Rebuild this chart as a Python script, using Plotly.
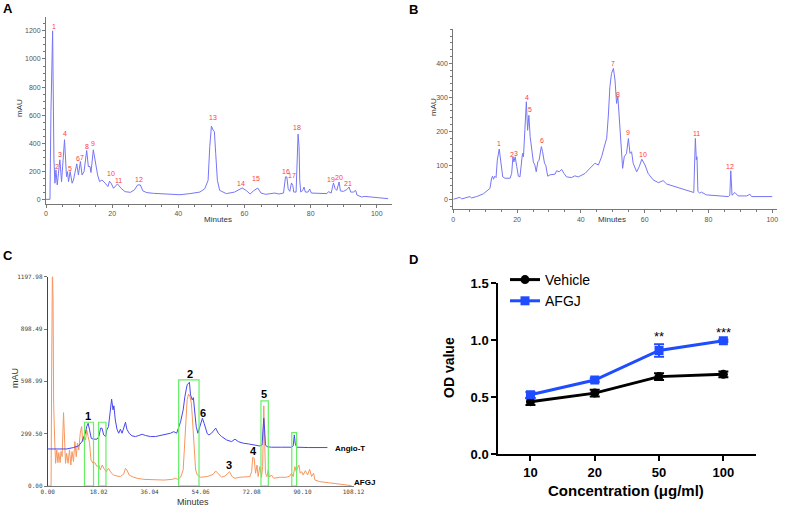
import plotly.graph_objects as go

# ---------------- data ----------------
# Panel A chromatogram (time min, mAU)
A_trace = [(0,0),(1.2,0),(1.5,627),(2.0,1200),(2.4,282),(2.7,115),(3.0,210),(3.4,103),(4.2,282),(4.7,126),
           (5.6,425),(6.2,162),(6.5,198),(6.8,126),(7.3,198),(7.9,115),(8.3,138),(9.3,253),(9.8,174),(10.4,270),
           (10.9,174),(11.5,198),(12.3,348),(12.8,234),(13.3,234),(13.6,191),(14.3,353),(14.8,282),(15.6,174),(16.2,126),
           (16.9,138),(17.9,115),(18.7,91),(19.2,129),(19.7,115),(20.4,79),(21.6,110),(22.7,79),(23.9,55),(25.5,50),
           (26.7,67),(27.7,103),(28.5,103),(29.3,60),(30.5,48),(32.5,43),(36.6,38),(40.5,33),(43.5,41),(46.5,52),
           (48.0,76),(49.0,136),(49.5,375),(50.0,522),(50.5,494),(50.9,482),(51.3,327),(51.8,136),(52.5,64),(54.5,41),
           (57.0,52),(59.3,81),(60.5,64),(61.7,38),(62.7,60),(64.0,81),(65.0,45),(66.4,36),(69.2,45),(70.4,38),
           (71.8,45),(72.4,160),(72.8,160),(73.2,76),(73.7,57),(74.2,117),(74.6,100),(74.9,52),(75.6,52),(76.0,327),
           (76.2,465),(76.5,375),(76.7,136),(77.0,52),(77.6,64),(78.0,88),(78.4,52),(79.2,52),(79.7,74),(80.2,45),
           (82.4,41),(84.9,41),(85.4,55),(86.2,45),(86.9,117),(87.4,76),(87.9,64),(88.6,124),(89.0,60),(89.9,57),
           (90.9,69),(91.6,88),(92.1,52),(92.9,52),(93.6,64),(94.0,31),(95.4,17),(96.4,21),(100.4,12),(103.4,5)]
A_peak_labels = ["1","2","3","4","5","6","7","8","9","10","11","12","13","14","15","16","17","18","19","20","21"]
A_peak_t = [2.4,3.2,4.2,5.6,7.4,9.6,11.0,12.4,14.1,19.7,21.9,28.2,50.4,59.0,63.4,72.4,74.5,76.0,86.2,88.6,91.3]
A_peak_v = [1231,234,322,472,217,293,300,379,400,186,131,138,582,112,146,200,172,511,143,157,112]

# Panel B chromatogram
B_trace = [(0,0),(2.1,6),(2.6,1),(5.2,8),(5.7,4),(7.3,8),(9.4,16),(10.7,25),(11.5,32),(12.0,62),
           (12.3,68),(12.6,59),(13.0,68),(13.4,64),(13.8,115),(14.4,148),(14.8,115),(15.5,66),(16.2,62),(17.8,62),
           (18.3,76),(18.7,125),(19.0,110),(19.4,125),(19.9,96),(20.4,68),(20.9,66),(21.4,100),(21.7,135),(22.0,125),
           (22.5,203),(22.9,287),(23.3,203),(23.7,247),(24.1,184),(24.6,150),(25.1,110),(25.6,100),(26.0,81),(26.5,110),
           (26.9,115),(27.6,155),(28.0,140),(28.6,106),(29.0,100),(29.6,68),(30.3,72),(31.9,74),(32.4,84),(33.2,81),
           (34.0,88),(34.7,76),(35.5,66),(37.1,64),(38.1,69),(39.2,66),(40.2,71),(41.3,76),(42.3,86),(43.4,96),
           (44.4,106),(45.5,101),(46.5,125),(47.5,160),(48.1,180),(48.6,245),(49.1,331),(49.6,370),(50.2,385),(50.7,351),
           (51.2,282),(51.6,302),(52.2,204),(53.1,91),(53.6,125),(54.3,135),(54.9,179),(55.4,135),(55.9,140),(56.4,106),
           (57.5,81),(58.3,96),(59.1,118),(60.1,101),(61.1,76),(62.7,57),(64.3,49),(65.8,55),(66.9,45),(69.0,39),
           (71.1,32),(73.1,27),(75.4,20),(75.9,179),(76.2,116),(76.4,125),(76.7,23),(77.3,18),(77.8,21),(79.4,13),
           (82.5,10),(86.2,8),(86.7,12),(87.0,84),(87.4,12),(88.3,20),(89.3,10),(92.0,10),(93.0,15),(93.5,8),(100.0,8)]
B_peak_labels = ["1","2","3","4","5","6","7","8","9","10","11","12"]
B_peak_t = [14.4,18.4,19.6,23.0,24.0,27.7,50.2,51.7,54.9,59.6,76.1,86.7]
B_peak_v = [163,132,135,300,265,172,400,309,196,132,194,96]

# Panel C overlay chromatograms
C_angio = [(0,212),(6.7,212),(9.1,220),(10.9,229),(12.1,254),(12.7,283),(13.3,302),(13.8,340),(14.3,359),(14.8,321),
           (15.4,273),(16.2,268),(17.4,268),(18.1,283),(18.7,331),(19.2,331),(19.8,292),(20.5,283),(20.9,321),(21.5,340),
           (22.1,417),(22.6,497),(23.1,436),(23.4,459),(23.9,378),(24.5,325),(25.1,302),(25.7,325),(26.3,302),(26.9,340),
           (27.5,365),(28.0,325),(28.8,302),(29.8,287),(31.0,283),(32.2,289),(33.4,296),(34.6,289),(36.3,283),(38.1,283),
           (39.9,289),(41.7,292),(43.4,302),(44.6,311),(45.6,302),(46.4,340),(47.0,369),(47.9,436),(48.5,512),(49.3,579),
           (50.1,594),(50.5,522),(51.1,493),(51.5,506),(52.0,436),(52.5,340),(53.1,302),(53.8,340),(54.7,388),(55.3,359),
           (55.9,321),(56.4,300),(57.0,292),(57.9,302),(59.4,331),(60.3,302),(61.5,283),(63.2,264),(65.0,254),(66.2,268),
           (67.4,254),(69.1,245),(70.9,241),(73.3,235),(75.0,229),(75.8,235),(76.2,321),(76.4,388),(76.7,321),(77.0,235),
           (77.5,225),(79.1,222),(82.7,222),(86.2,222),(86.8,229),(87.2,292),(87.5,245),(88.0,222),(92.1,220),(95.6,220),
           (98.9,220)]
C_afgj = [(0,0),(1.2,0),(1.4,665),(1.66,1250),(1.9,1066),(2.1,474),(2.5,245),(2.8,130),(3.2,206),(3.6,134),
          (3.9,191),(4.4,134),(4.7,197),(5.1,168),(5.6,420),(5.9,245),(6.3,130),(6.7,187),(7.2,130),(7.7,206),
          (8.2,120),(8.6,197),(9.1,140),(9.6,254),(10.1,168),(10.5,245),(11.0,206),(11.5,302),(12.0,340),(12.4,254),
          (12.9,283),(13.4,264),(13.8,321),(14.3,283),(14.8,245),(15.3,149),(16.0,130),(16.7,134),(17.4,111),(18.1,120),
          (18.6,92),(19.3,120),(20.0,96),(20.7,82),(21.5,101),(22.4,76),(23.3,63),(24.5,57),(25.7,54),(26.9,69),
          (27.5,101),(28.0,92),(28.8,63),(29.8,54),(31.6,44),(34.0,38),(37.5,34),(41.1,34),(44.0,38),(45.2,44),
          (46.0,38),(47.0,50),(47.9,92),(48.4,206),(48.9,378),(49.3,493),(49.8,527),(50.3,512),(50.8,474),(51.2,378),
          (51.7,206),(52.3,92),(52.9,63),(54.1,50),(56.4,54),(58.5,67),(59.4,86),(60.3,73),(61.5,50),(62.7,57),
          (63.6,73),(64.3,82),(65.2,54),(66.2,44),(68.0,50),(69.7,50),(71.5,54),(72.1,82),(72.5,164),(73.0,159),
          (73.5,73),(74.0,120),(74.4,54),(75.0,111),(75.6,50),(76.0,111),(76.2,426),(76.4,459),(76.7,264),(77.0,73),
          (77.5,54),(78.0,92),(78.4,50),(79.1,63),(79.9,44),(82.1,50),(84.4,50),(85.6,57),(86.2,73),(86.8,54),
          (87.4,111),(87.9,82),(88.3,101),(88.8,120),(89.3,73),(89.8,82),(90.3,63),(91.1,88),(91.9,63),(92.6,96),
          (93.3,54),(94.0,73),(94.5,34),(96.2,25),(99.2,19),(102.7,11),(105.6,6),(107.4,2)]
C_boxes = [(13.0,16.2,365),(18.0,20.6,365),(46.3,53.5,608),(75.4,78.0,487),(86.3,88.0,306)]  # t0, t1, top
C_peak_labels = ["1","2","3","4","5","6"]
C_peak_t = [14.4,50.2,64.1,72.7,76.6,54.8]
C_peak_v = [401,642,120,200,525,417]
C_xticks = [0,18.02,36.04,54.06,72.08,90.10,108.12]
C_xticktext = ["0.00","18.02","36.04","54.06","72.08","90.10","108.12"]
C_yticks = [0,299.495,598.99,898.485,1197.98]
C_yticktext = ["0.00","299.50","598.99","898.49","1197.98"]

# Panel D
conc = ["10","20","50","100"]
vehicle = [0.46,0.535,0.68,0.70]
vehicle_err = [0.03,0.03,0.03,0.025]
afgj = [0.52,0.65,0.91,0.995]
afgj_err = [0.025,0.015,0.055,0.01]
sig_index = [2,3]          # category positions of "50" and "100"
sig_text = ["**","***"]
sig_y = [1.03,1.07]

# ---------------- layout helpers ----------------
W, H = 789, 509
def dx(px): return px / W
def dy(px): return 1 - px / H

fig = go.Figure()
chrom_blue = "#7676f6"
red = "#ff3b3b"

def unzip(pairs):
    return [p[0] for p in pairs], [p[1] for p in pairs]

at, av = unzip(A_trace)
fig.add_trace(go.Scatter(x=at, y=av, mode="lines", line=dict(color=chrom_blue, width=1),
                         xaxis="x", yaxis="y", showlegend=False, hoverinfo="skip"))
bt, bv = unzip(B_trace)
fig.add_trace(go.Scatter(x=bt, y=bv, mode="lines", line=dict(color=chrom_blue, width=1),
                         xaxis="x2", yaxis="y2", showlegend=False, hoverinfo="skip"))
ct, cv = unzip(C_afgj)
fig.add_trace(go.Scatter(x=ct, y=cv, mode="lines", line=dict(color="#f7965e", width=1),
                         xaxis="x3", yaxis="y3", showlegend=False, hoverinfo="skip"))
ct2, cv2 = unzip(C_angio)
fig.add_trace(go.Scatter(x=ct2, y=cv2, mode="lines", line=dict(color="#4646f0", width=1),
                         xaxis="x3", yaxis="y3", showlegend=False, hoverinfo="skip"))

# Panel D
fig.add_trace(go.Scatter(x=conc, y=vehicle, name="Vehicle", mode="lines+markers",
                         line=dict(color="black", width=3), marker=dict(symbol="circle", size=9, color="black"),
                         error_y=dict(type="data", array=vehicle_err, color="black", thickness=2, width=5),
                         xaxis="x4", yaxis="y4"))
fig.add_trace(go.Scatter(x=conc, y=afgj, name="AFGJ", mode="lines+markers",
                         line=dict(color="#1f4cff", width=3), marker=dict(symbol="square", size=9, color="#1f4cff"),
                         error_y=dict(type="data", array=afgj_err, color="#1f4cff", thickness=2, width=5),
                         xaxis="x4", yaxis="y4"))

small_font = dict(family="Liberation Sans, Arial", size=7, color="#555")
chrom_axis = dict(showline=True, linecolor="#777", linewidth=1, ticks="outside", ticklen=3,
                  tickcolor="#777", tickfont=small_font, showgrid=False, zeroline=False, automargin=False)

annotations = []
for lab, t, v in zip(A_peak_labels, A_peak_t, A_peak_v):
    annotations.append(dict(x=t, y=v, xref="x", yref="y", text=lab, showarrow=False,
                            font=dict(family="Liberation Sans, Arial", size=7, color=red)))
for lab, t, v in zip(B_peak_labels, B_peak_t, B_peak_v):
    annotations.append(dict(x=t, y=v, xref="x2", yref="y2", text=lab, showarrow=False,
                            font=dict(family="Liberation Sans, Arial", size=7, color=red)))
for lab, t, v in zip(C_peak_labels, C_peak_t, C_peak_v):
    annotations.append(dict(x=t, y=v, xref="x3", yref="y3", text="<b>%s</b>" % lab, showarrow=False,
                            font=dict(family="Liberation Sans, Arial", size=11, color="black")))
annotations.append(dict(x=100.9, y=216, xref="x3", yref="y3", text="<b>Angio-T</b>", showarrow=False,
                        xanchor="left", font=dict(family="Liberation Sans, Arial", size=8, color="black")))
annotations.append(dict(x=107.6, y=22, xref="x3", yref="y3", text="<b>AFGJ</b>", showarrow=False,
                        xanchor="left", font=dict(family="Liberation Sans, Arial", size=8, color="black")))
for i, s, y in zip(sig_index, sig_text, sig_y):
    annotations.append(dict(x=i, y=y, xref="x4", yref="y4", text=s, showarrow=False,
                            font=dict(family="Liberation Sans, Arial", size=13, color="black")))

# panel letters and axis titles
def ptext(px, py, text, size, bold=False, angle=0, color="black"):
    annotations.append(dict(x=dx(px), y=dy(py), xref="paper", yref="paper",
                            text=("<b>%s</b>" % text) if bold else text, showarrow=False,
                            textangle=angle, xanchor="center", yanchor="middle",
                            font=dict(family="Liberation Sans, Arial", size=size, color=color)))
ptext(8, 8, "A", 13, bold=True)
ptext(413, 9, "B", 13, bold=True)
ptext(8, 256, "C", 13, bold=True)
ptext(413, 259, "D", 13, bold=True)
ptext(20, 108, "mAU", 8, angle=-90, color="#333")
ptext(218, 219, "Minutes", 8, color="#333")
ptext(433, 107, "mAU", 8, angle=-90, color="#333")
ptext(612, 219, "Minutes", 8, color="#333")
ptext(15, 378, "mAU", 9, angle=-90, color="#333")
ptext(193, 502, "Minutes", 9, color="#333")
ptext(449, 368, "OD value", 14, bold=True, angle=-90)
ptext(626, 490, "Concentration (μg/ml)", 15, bold=True)

shapes = []
for t0, t1, top in C_boxes:
    shapes.append(dict(type="rect", xref="x3", yref="y3", x0=t0, x1=t1, y0=0, y1=top,
                       line=dict(color="#66ee66", width=1.2), fillcolor="rgba(0,0,0,0)"))

d_font = dict(family="Liberation Sans, Arial", size=14, color="black")
d_tick = dict(family="Liberation Sans, Arial", size=13, color="black", weight="bold")
fig.update_layout(
    width=W, height=H, margin=dict(l=0, r=0, t=0, b=0, pad=0, autoexpand=False), autosize=False,
    plot_bgcolor="white", paper_bgcolor="white",
    xaxis=dict(domain=[dx(46), dx(391.7)], range=[0, 104.5], anchor="y", tickvals=[0,20,40,60,80,100],
               minor=dict(dtick=5, ticklen=2, tickcolor="#777", ticks="outside"), **chrom_axis),
    yaxis=dict(domain=[dy(204), dy(17)], range=[-33, 1299], anchor="x", tickvals=[0,200,400,600,800,1000,1200],
               minor=dict(dtick=50, ticklen=2, tickcolor="#777", ticks="outside"), **chrom_axis),
    xaxis2=dict(domain=[dx(453.3), dx(776.7)], range=[0, 101.4], anchor="y2", tickvals=[0,20,40,60,80,100],
                minor=dict(dtick=5, ticklen=2, tickcolor="#777", ticks="outside"), **chrom_axis),
    yaxis2=dict(domain=[dy(209.3), dy(29)], range=[-29.4, 501], anchor="x2", tickvals=[0,100,200,300,400],
                minor=dict(dtick=20, ticklen=2, tickcolor="#777", ticks="outside"), **chrom_axis),
    xaxis3=dict(domain=[dx(47.7), dx(353.5)], range=[0, 108.12], anchor="y3", tickvals=C_xticks,
                ticktext=C_xticktext, **{**chrom_axis, "tickfont": dict(family="DejaVu Sans Mono", size=6, color="#444"),
                                         "ticks": ""}),
    yaxis3=dict(domain=[dy(486), dy(276.7)], range=[0, 1197.98], anchor="x3", tickvals=C_yticks,
                ticktext=C_yticktext, **{**chrom_axis, "tickfont": dict(family="DejaVu Sans Mono", size=6, color="#444"),
                                         "linecolor": "#444"}),
    xaxis4=dict(domain=[dx(498.3), dx(755.5)], type="category", range=[-0.5, 3.5], anchor="y4",
                showline=True, linecolor="black", linewidth=2, ticks="outside", ticklen=5, tickwidth=2,
                tickcolor="black", tickfont=d_tick, showgrid=False, zeroline=False, automargin=False),
    yaxis4=dict(domain=[dy(454), dy(283.3)], range=[0, 1.5], anchor="x4", tickvals=[0,0.5,1.0,1.5],
                ticktext=["0.0","0.5","1.0","1.5"],
                showline=True, linecolor="black", linewidth=2, ticks="outside", ticklen=5, tickwidth=2,
                tickcolor="black", tickfont=d_tick, showgrid=False, zeroline=False, automargin=False),
    legend=dict(x=dx(505), y=dy(264), xanchor="left", yanchor="top", font=d_font,
                bgcolor="rgba(0,0,0,0)", itemwidth=30, tracegroupgap=0),
    annotations=annotations, shapes=shapes,
)

fig.write_html("out.html", config={"displayModeBar": False},
               post_script="document.body.style.margin='0px';document.body.style.overflow='hidden';")
